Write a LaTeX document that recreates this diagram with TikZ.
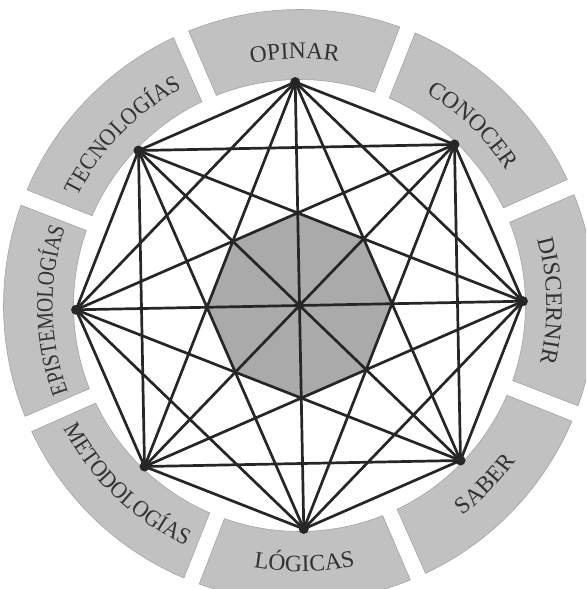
\documentclass[tikz,border=0pt]{standalone}
\usepackage{fontspec}
\setmainfont{Liberation Serif}
\newfontfamily\condfont[FakeStretch=0.83]{Liberation Serif}
\newfontfamily\semifont[FakeStretch=0.92]{Liberation Serif}
\usetikzlibrary{decorations.text}
\definecolor{ringgray}{RGB}{193,193,193}
\definecolor{coregray}{RGB}{170,170,170}
\definecolor{inkgray}{RGB}{38,38,38}
\definecolor{labelgray}{RGB}{50,50,50}
\newcommand{\lblfont}{\fontsize{11.8}{13}\selectfont\color{labelgray}}

\begin{document}
\begin{tikzpicture}[x=0.5pt,y=0.5pt]
\tikzstyle{seg}=[fill=ringgray, draw=ringgray!85!black, line width=0.3pt]
\tikzstyle{core}=[fill=coregray]
\tikzstyle{edge}=[draw=inkgray, line width=1.35pt]
\tikzstyle{dot}=[circle, fill=inkgray, inner sep=0pt, minimum size=5pt]
\tikzstyle{cw}=[decorate, decoration={text along path, text align=center}]
\useasboundingbox (-299.5,-283.5) rectangle (286.5,305.5);
\clip (-299.5,-283.5) rectangle (286.5,305.5);
\begin{scope}[rotate=1.1]
\foreach \a in {0,45,...,315}
  \fill[seg] ({\a+20.5}:226) -- ({\a+20.9}:296) arc[start angle=\a+20.9, end angle=\a-20.9, radius=296]
    -- ({\a-20.5}:226) arc[start angle=\a-20.5, end angle=\a+20.5, radius=226] -- cycle;
\path[cw, decoration={text={|\lblfont|OPINAR}}] (130:247) arc[start angle=130, end angle=50, radius=247];
\path[cw, decoration={text={|\lblfont|CONOCER}}] (85:247) arc[start angle=85, end angle=5, radius=247];
\path[cw, decoration={text={|\lblfont|DISCERNIR}}] (40:247) arc[start angle=40, end angle=-40, radius=247];
\path[cw, decoration={text={|\lblfont\semifont|TECNOLOGÍAS}}] (175:247) arc[start angle=175, end angle=95, radius=247];
\path[cw, decoration={text={|\lblfont\condfont|EPISTEMOLOGÍAS}}] (220:247) arc[start angle=220, end angle=140, radius=247];
\path[cw, decoration={text={|\lblfont|SABER}}] (-85:266) arc[start angle=-85, end angle=-5, radius=266];
\path[cw, decoration={text={|\lblfont|LÓGICAS}}] (-130:266) arc[start angle=-130, end angle=-50, radius=266];
\path[cw, decoration={text={|\lblfont\semifont|METODOLOGÍAS}}] (-175:266) arc[start angle=-175, end angle=-95, radius=266];
\fill[core] (0:92.6) \foreach \k in {1,...,7} { -- (\k*45:92.6) } -- cycle;
\foreach \i in {1,...,8}
  \coordinate (v\i) at ({(\i-1)*45}:223.5);
\foreach \i in {1,...,7}{
  \pgfmathtruncatemacro{\n}{\i+1}
  \foreach \j in {\n,...,8}
    \draw[edge] (v\i) -- (v\j);
}
\foreach \i in {1,...,8}
  \node[dot] (d\i) at (v\i) {};
\end{scope}
\end{tikzpicture}
\end{document}
